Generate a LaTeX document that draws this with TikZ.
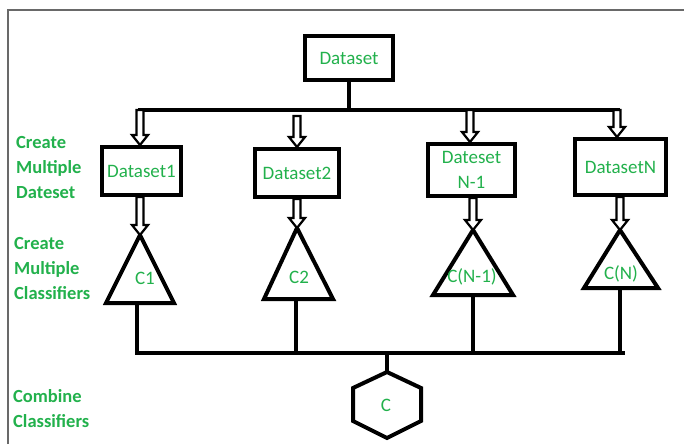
\documentclass[tikz,border=0pt]{standalone}
\usepackage{fontspec}
\setmainfont{Carlito}
\usetikzlibrary{calc}
\definecolor{lblgreen}{RGB}{34,177,76}
\definecolor{framegray}{RGB}{105,105,105}
\tikzset{
  boxnode/.style={draw=black, line width=4pt, fill=white, rectangle, inner sep=1pt,
    text=lblgreen, font=\fontsize{19}{25}\selectfont, align=center},
  thick line/.style={draw=black, line width=4pt},
  shapeline/.style={draw=black, line width=4pt, line join=miter, fill=white},
  shapetext/.style={text=lblgreen, font=\fontsize{19}{25}\selectfont, inner sep=0pt},
  sidelabel/.style={text=lblgreen, font=\bfseries\fontsize{18.5}{25}\selectfont, align=left, anchor=base west, inner sep=0pt},
  blockarrow/.style={draw=black, line width=2.2pt, fill=white, line join=miter,
    to path={let \p1=(\tikztostart), \p2=(\tikztotarget) in
      (\x1-3.5pt,\y1) -- (\x1-3.5pt,\y2+10pt) -- (\x1-8pt,\y2+10pt) -- (\x1,\y2)
      -- (\x1+8pt,\y2+10pt) -- (\x1+3.5pt,\y2+10pt) -- (\x1+3.5pt,\y1) -- cycle}}
}
\begin{document}
\begin{tikzpicture}[x=1pt,y=-1pt]
\useasboundingbox[fill=white] (0,0) rectangle (684,444);
% frame
\draw[framegray, line width=1.5pt] (8,444) -- (8,10) -- (684,10);

% top dataset
\node[boxnode, minimum width=88pt, minimum height=44pt] (ds) at (349,58) {Dataset};
\coordinate (barL) at (138,110);
\coordinate (barR) at (620,110);
\coordinate (barM) at (349,110);
\draw[thick line] (barL) -- (barR);
\draw[thick line] (ds.south) -- (barM);

% level boxes
\node[boxnode, minimum width=79pt, minimum height=48pt] (ds1) at (141.5,171) {Dataset1};
\node[boxnode, minimum width=84pt, minimum height=48pt] (ds2) at (297,173) {Dataset2};
\node[boxnode, minimum width=87pt, minimum height=52pt] (ds3) at (471.5,170) {Dateset\\N-1};
\node[boxnode, minimum width=91pt, minimum height=56pt] (ds4) at (620.5,167) {DatasetN};

% arrows from bar to boxes
\coordinate (a1) at (140,110);
\coordinate (a2) at (297,116);
\coordinate (a3) at (470,110);
\coordinate (a4) at (617,110);
\draw[blockarrow] (a1) to (a1 |- ds1.north);
\draw[blockarrow] (a2) to (a2 |- ds2.north);
\draw[blockarrow] (a3) to (a3 |- ds3.north);
\draw[blockarrow] (a4) to (a4 |- ds4.north);

% triangles
\coordinate (t1) at (140,235);
\coordinate (t2) at (297,228);
\coordinate (t3) at (473,230);
\coordinate (t4) at (620,230);
\draw[shapeline] (t1) -- (106,303) -- (174,303) -- cycle;
\draw[shapeline] (t2) -- (264,299) -- (333,299) -- cycle;
\draw[shapeline] (t3) -- (433,295) -- (513,295) -- cycle;
\draw[shapeline] (t4) -- (584,288) -- (658,288) -- cycle;
\node[shapetext] (c1) at (145,278) {C1};
\node[shapetext] (c2) at (299,277) {C2};
\node[shapetext] (c3) at (472,277) {C(N-1)};
\node[shapetext] (c4) at (621,274) {C(N)};

% arrows from boxes to triangles
\draw[blockarrow] (ds1.south -| t1) to (t1);
\draw[blockarrow] (ds2.south -| t2) to (t2);
\draw[blockarrow] (ds3.south -| t3) to (t3);
\draw[blockarrow] (ds4.south -| t4) to (t4);

% stems to bottom bar
\coordinate (b1) at (137,305);
\coordinate (b2) at (296,301);
\coordinate (b3) at (473,297);
\coordinate (b4) at (620,290);
\coordinate (bbL) at (135,353);
\coordinate (bbR) at (625,353);
\draw[thick line] (b1) -- (b1 |- bbL);
\draw[thick line] (b2) -- (b2 |- bbL);
\draw[thick line] (b3) -- (b3 |- bbL);
\draw[thick line] (b4) -- (b4 |- bbL);
\draw[thick line] (bbL) -- (bbR);

% hexagon
\coordinate (hx) at (387,372);
\draw[thick line] (hx |- bbL) -- (hx);
\draw[shapeline] (hx) -- (421,388) -- (421,421) -- (387,438) -- (353,421) -- (353,388) -- cycle;
\node[shapetext] (cc) at (386,405) {C};

% side labels (anchor = baseline of last line)
\node[sidelabel] (l1) at (16,198) {Create\\Multiple\\Dateset};
\node[sidelabel] (l2) at (14,299) {Create\\Multiple\\Classifiers};
\node[sidelabel] (l3) at (13,427) {Combine\\Classifiers};
\end{tikzpicture}
\end{document}
